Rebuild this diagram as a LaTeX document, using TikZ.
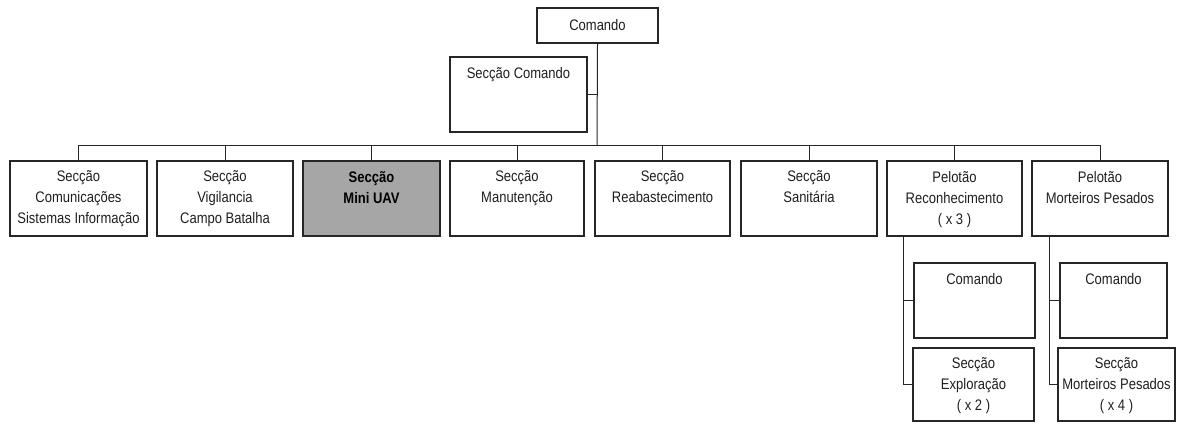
\documentclass[tikz,border=0pt]{standalone}
\usepackage{fontspec}
\setmainfont{Liberation Sans}[FakeStretch=0.85]
\begin{document}
\begin{tikzpicture}[x=1pt,y=-1pt,
  unit/.style={draw=black!85,line width=1.4pt,rectangle,inner sep=0pt},
  shaded/.style={unit,fill=black!35},
  lbl/.style={anchor=north,inner sep=0pt,align=center,text=black!88,
    font=\fontsize{15.3}{21}\selectfont},
  link/.style={draw=black!85,line width=1pt}]
\useasboundingbox (0,0) rectangle (1182,423);

% boxes: \unitbox{name}{x1}{y1}{x2}{y2}{style}
\newcommand\unitbox[6]{%
  \node[#6,minimum width=#4-#2,minimum height=#5-#3] (#1) at ({(#2+#4)/2},{(#3+#5)/2}) {};}

\unitbox{cmd}{537}{8}{658}{43}{unit}
\unitbox{scmd}{450}{57}{587}{132}{unit}
\unitbox{b1}{10}{161}{147}{236}{unit}
\unitbox{b2}{157}{161}{293}{236}{unit}
\unitbox{b3}{303}{161}{440}{236}{shaded}
\unitbox{b4}{450}{161}{584}{236}{unit}
\unitbox{b5}{595}{161}{730}{236}{unit}
\unitbox{b6}{741}{161}{877}{236}{unit}
\unitbox{b7}{887}{161}{1022}{236}{unit}
\unitbox{b8}{1032}{161}{1168}{236}{unit}
\unitbox{c1}{914}{263}{1035}{338}{unit}
\unitbox{c2}{1060}{263}{1167}{338}{unit}
\unitbox{e1}{913}{348}{1034}{421}{unit}
\unitbox{e2}{1058}{348}{1175}{421}{unit}

% labels
\node[lbl,anchor=center] (tcmd) at (cmd) {Comando};
\node[lbl] (tscmd) at ([yshift=-10.5pt]scmd.north) {Secção Comando};
\node[lbl] (t1) at ([yshift=-10.5pt]b1.north) {Secção\\Comunicações\\Sistemas Informação};
\node[lbl] (t2) at ([yshift=-10.5pt]b2.north) {Secção\\Vigilancia\\Campo Batalha};
\node[lbl,font=\fontsize{15.3}{21}\selectfont\bfseries,text=black] (t3) at ([yshift=-10.5pt]b3.north) {Secção\\Mini UAV};
\node[lbl] (t4) at ([yshift=-10.5pt]b4.north) {Secção\\Manutenção};
\node[lbl] (t5) at ([yshift=-10.5pt]b5.north) {Secção\\Reabastecimento};
\node[lbl] (t6) at ([yshift=-10.5pt]b6.north) {Secção\\Sanitária};
\node[lbl] (t7) at ([yshift=-10.5pt]b7.north) {Pelotão\\Reconhecimento\\( x 3 )};
\node[lbl] (t8) at ([yshift=-10.5pt]b8.north) {Pelotão\\Morteiros Pesados};
\node[lbl] (tc1) at ([yshift=-10.5pt]c1.north) {Comando};
\node[lbl] (tc2) at ([yshift=-10.5pt]c2.north) {Comando};
\node[lbl] (te1) at ([yshift=-10.5pt]e1.north) {Secção\\Exploração\\( x 2 )};
\node[lbl] (te2) at ([yshift=-10.5pt]e2.north) {Secção\\Morteiros Pesados\\( x 4 )};

% main trunk and bus
\coordinate (bus) at (597,145);
\draw[link] (cmd.south) -- (bus);
\draw[link] (scmd.east) -- (scmd.east -| cmd.south);
\draw[link] (b1.north) -- (b1.north |- bus) -- (b8.north |- bus) -- (b8.north);
\foreach \b in {b2,b3,b4,b5,b6,b7}
  \draw[link] (\b.north) -- (\b.north |- bus);

% platoon sub-trees
\draw[link] ([xshift=-10pt]c1.west |- b7.south) |- (e1.west);
\draw[link] (c1.west) -- ++(-10,0);
\draw[link] ([xshift=-10pt]c2.west |- b8.south) |- (e2.west);
\draw[link] (c2.west) -- ++(-10,0);
\end{tikzpicture}
\end{document}
